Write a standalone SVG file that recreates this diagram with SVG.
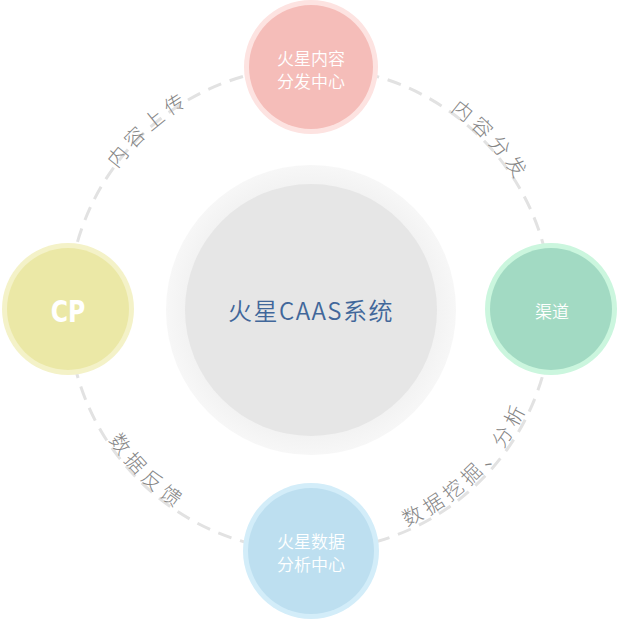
<svg xmlns="http://www.w3.org/2000/svg" width="621" height="621" viewBox="0 0 621 621">
<style>
.cjk{font-family:"Noto Sans CJK SC","Noto Sans",sans-serif}
.lbl{font-size:20px;fill:#858585;letter-spacing:5px;font-weight:300}
.nt{font-size:17px;fill:#ffffff;text-anchor:middle;font-weight:350}
</style>
<defs>
<radialGradient id="halo" cx="50%" cy="50%" r="50%">
<stop offset="0.85" stop-color="#f2f2f2"/>
<stop offset="1" stop-color="#f7f7f7"/>
</radialGradient>
<path id="p1" d="M83.6,235.5 A238,238 0 0 1 260.5,76.2"/>
<path id="p2" d="M381.1,76.6 A243,243 0 0 1 546.8,254.3"/>
<path id="p3" d="M78.2,371.1 A240,240 0 0 0 247.9,540.8"/>
<path id="p4" d="M351.3,543.4 A238,238 0 0 0 544.4,350.3"/>
</defs>
<rect width="621" height="621" fill="#ffffff"/>
<g id="connectors">
<circle cx="310" cy="309" r="242" fill="none" stroke="#e2e2e2" stroke-width="3" stroke-dasharray="14 9"/>
<text class="cjk lbl"><textPath href="#p1" startOffset="50%" text-anchor="middle">内容上传</textPath></text>
<text class="cjk lbl"><textPath href="#p2" startOffset="50%" text-anchor="middle">内容分发</textPath></text>
<text class="cjk lbl"><textPath href="#p3" startOffset="50%" text-anchor="middle">数据反馈</textPath></text>
<text class="cjk lbl"><textPath href="#p4" startOffset="50%" text-anchor="middle">数据挖掘、分析</textPath></text>
</g>
<g id="center">
<circle cx="311" cy="310" r="145" fill="url(#halo)"/>
<circle cx="311" cy="310" r="126" fill="#e6e6e6"/>
<text class="cjk" x="311" y="320" font-size="24" fill="#41679a" text-anchor="middle" letter-spacing="1.5" font-weight="350">火星CAAS系统</text>
</g>
<g id="node-top">
<circle cx="311" cy="67" r="67" fill="#fde3e1"/>
<circle cx="311" cy="67" r="62" fill="#f5bdb9"/>
<text class="cjk nt" x="311" y="65">火星内容</text>
<text class="cjk nt" x="311" y="88">分发中心</text>
</g>
<g id="node-left">
<circle cx="68" cy="309" r="66" fill="#f4f2c8"/>
<circle cx="68" cy="309" r="61" fill="#ebe8a6"/>
<text transform="translate(68,322) scale(0.76,1)" font-family="DejaVu Sans,sans-serif" font-weight="bold" font-size="31" fill="#ffffff" text-anchor="middle">CP</text>
</g>
<g id="node-right">
<circle cx="551" cy="309" r="66" fill="#cbf6de"/>
<circle cx="551" cy="309" r="61" fill="#a2dac3"/>
<text class="cjk nt" x="552" y="318">渠道</text>
</g>
<g id="node-bottom">
<circle cx="311" cy="551" r="68" fill="#d3edf9"/>
<circle cx="311" cy="551" r="63" fill="#bddff0"/>
<text class="cjk nt" x="311" y="548">火星数据</text>
<text class="cjk nt" x="311" y="571">分析中心</text>
</g>
</svg>
